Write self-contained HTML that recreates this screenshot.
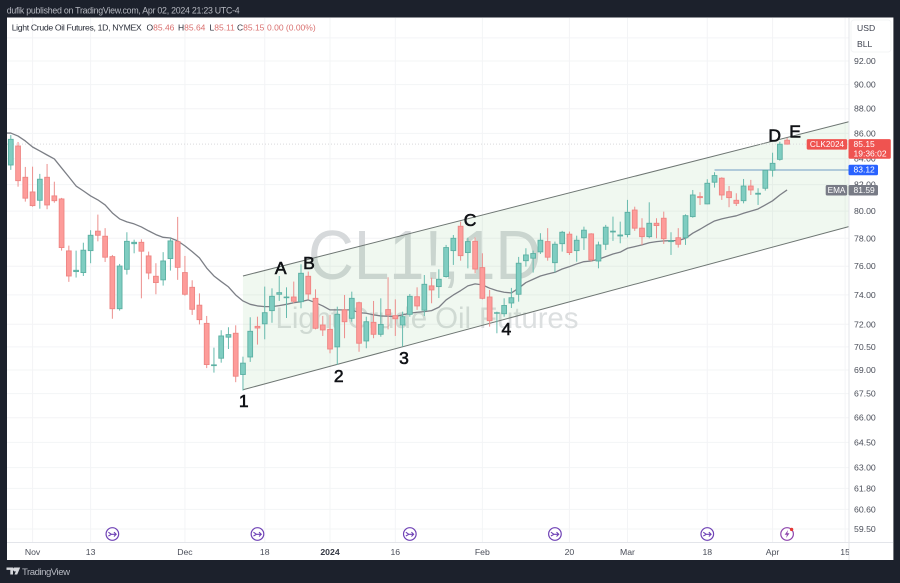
<!DOCTYPE html>
<html lang="en">
<head>
<meta charset="utf-8">
<title>Light Crude Oil Futures chart</title>
<style>
html,body{margin:0;padding:0;width:900px;height:583px;overflow:hidden;background:#1c212c;}
svg{display:block;font-family:"Liberation Sans",sans-serif;filter:blur(0.3px);}
</style>
</head>
<body>
<svg id="chart" xmlns="http://www.w3.org/2000/svg" width="900" height="583" viewBox="0 0 900 583">
  <defs>
    <clipPath id="pane-clip"><rect x="7" y="18" width="842" height="524"/></clipPath>
    <clipPath id="time-clip"><rect x="7" y="542" width="842" height="18"/></clipPath>
  </defs>
  <rect width="900" height="583" fill="#1c212c"/>
  <text x="6.7" y="13.4" font-size="8.8" fill="#b7bac2" textLength="233" lengthAdjust="spacing">dufik published on TradingView.com, Apr 02, 2024 21:23 UTC-4</text>
  <rect x="7" y="17.5" width="886.4" height="542.5" fill="#ffffff"/>
  <g id="grid"></g>
  <g fill="#d6d9db">
    <text transform="matrix(0.907 0 0 1 308 279)" font-size="70" word-spacing="-19">CL1!, 1D</text>
    <text x="427" y="328" font-size="29.5" text-anchor="middle" fill="#dcdfe0" textLength="303" lengthAdjust="spacing">Light Crude Oil Futures</text>
  </g>
  <g id="plot" clip-path="url(#pane-clip)"></g>
  <g id="annotations"></g>
  <g id="events"></g>
  <text x="11.7" y="30.6" font-size="8.7" fill="#2a2e39" textLength="130" lengthAdjust="spacing">Light Crude Oil Futures, 1D, NYMEX</text>
  <g font-size="8.5" fill="#2a2e39">
    <text x="146.5" y="30.6">O<tspan fill="#d9706f">85.46</tspan></text>
    <text x="178" y="30.6">H<tspan fill="#d9706f">85.64</tspan></text>
    <text x="209.5" y="30.6">L<tspan fill="#d9706f">85.11</tspan></text>
    <text x="237" y="30.6">C<tspan fill="#d9706f">85.15</tspan></text>
    <text x="267" y="30.6" fill="#d9706f">0.00 (0.00%)</text>
  </g>
  <line x1="849" y1="18" x2="849" y2="560" stroke="#e3e5ea" stroke-width="1"/>
  <line x1="7" y1="542.5" x2="893" y2="542.5" stroke="#e3e5ea" stroke-width="1"/>
  <g id="price-axis"></g>
  <g id="time-axis" clip-path="url(#time-clip)"></g>
  <g>
    <rect x="851" y="20" width="40" height="32" rx="3" fill="#ffffff" stroke="#f3f4f6"/>
    <text x="857" y="31" font-size="8.6" fill="#3f4350">USD</text>
    <text x="857" y="47" font-size="8.6" fill="#3f4350">BLL</text>
  </g>
  <g id="price-tags"></g>
  <g>
    <path d="M6.5 567.5h6.5v7h-2.7v-4.6H6.5zM14 567.5h6.2l-3 7h-2.7l1.4-3.3a1.6 1.6 0 1 1-1.9-3.7z" fill="#d6d8dd"/>
    <text x="22" y="575" font-size="9.6" fill="#b7bac2" textLength="48" lengthAdjust="spacing">TradingView</text>
  </g>
</svg>
<script>
// ---- chart data ----
const categories = [
"2023-10-27","2023-10-30","2023-10-31","2023-11-01","2023-11-02","2023-11-03","2023-11-06","2023-11-07","2023-11-08","2023-11-09",
"2023-11-10","2023-11-13","2023-11-14","2023-11-15","2023-11-16","2023-11-17","2023-11-20","2023-11-21","2023-11-22","2023-11-24",
"2023-11-27","2023-11-28","2023-11-29","2023-11-30","2023-12-01","2023-12-04","2023-12-05","2023-12-06","2023-12-07","2023-12-08",
"2023-12-11","2023-12-12","2023-12-13","2023-12-14","2023-12-15","2023-12-18","2023-12-19","2023-12-20","2023-12-21","2023-12-22",
"2023-12-26","2023-12-27","2023-12-28","2023-12-29","2024-01-02","2024-01-03","2024-01-04","2024-01-05","2024-01-08","2024-01-09",
"2024-01-10","2024-01-11","2024-01-12","2024-01-16","2024-01-17","2024-01-18","2024-01-19","2024-01-22","2024-01-23","2024-01-24",
"2024-01-25","2024-01-26","2024-01-29","2024-01-30","2024-01-31","2024-02-01","2024-02-02","2024-02-05","2024-02-06","2024-02-07",
"2024-02-08","2024-02-09","2024-02-12","2024-02-13","2024-02-14","2024-02-15","2024-02-16","2024-02-20","2024-02-21","2024-02-22",
"2024-02-23","2024-02-26","2024-02-27","2024-02-28","2024-02-29","2024-03-01","2024-03-04","2024-03-05","2024-03-06","2024-03-07",
"2024-03-08","2024-03-11","2024-03-12","2024-03-13","2024-03-14","2024-03-15","2024-03-18","2024-03-19","2024-03-20","2024-03-21",
"2024-03-22","2024-03-25","2024-03-26","2024-03-27","2024-03-28","2024-04-01","2024-04-02","2024-04-03","2024-04-04","2024-04-05",
"2024-04-08","2024-04-09","2024-04-10","2024-04-11","2024-04-12","2024-04-15"];

const opens = [
83.51,85.00,82.56,81.44,80.81,82.56,81.14,80.91,77.09,75.62,
75.55,77.11,78.52,78.15,76.68,73.05,75.78,77.61,77.71,76.73,
75.29,75.04,76.54,77.76,75.55,74.52,73.29,72.06,69.28,69.76,
71.14,71.40,68.71,69.84,71.86,72.03,72.92,74.04,73.80,73.85,
73.53,75.29,73.76,71.95,71.66,70.50,72.97,72.40,73.46,70.89,
72.13,71.33,72.99,72.58,71.95,72.67,73.87,72.95,74.62,74.57,
75.27,77.11,78.88,76.97,77.78,75.90,73.85,72.74,72.71,73.44,
74.04,76.39,76.57,77.02,77.76,76.25,77.61,78.30,77.11,78.04,
78.32,76.37,77.57,78.46,78.17,78.27,80.08,78.74,78.12,79.10,
79.47,77.76,78.04,78.04,79.59,81.09,80.54,82.18,82.49,81.46,
80.81,80.78,81.89,81.27,81.72,83.10,83.95,85.46];

const highs = [
85.87,85.32,83.36,83.38,82.82,83.59,82.22,80.99,77.47,77.11,
77.68,78.59,79.74,78.74,76.80,76.16,78.44,77.90,77.93,77.04,
76.21,77.00,78.00,79.57,76.73,75.01,74.10,72.56,70.45,71.60,
71.80,71.93,69.86,72.47,72.51,74.57,74.45,75.31,74.52,74.92,
76.14,75.62,74.38,72.56,72.63,73.19,73.99,74.22,73.53,72.51,
73.58,73.76,75.22,73.69,72.85,74.06,74.52,75.38,75.19,75.78,
77.52,78.24,79.22,78.04,78.07,76.92,74.34,72.85,73.76,74.48,
76.66,77.28,77.11,78.37,78.74,77.76,78.54,78.49,78.19,78.85,
78.37,77.76,78.98,79.59,79.22,80.84,80.33,79.47,80.66,79.47,
79.96,78.44,78.74,79.76,81.59,81.42,82.41,82.95,82.56,81.89,
81.34,82.43,82.36,81.72,83.13,84.47,85.34,85.64];

const lows = [
83.13,81.84,80.71,80.33,80.18,80.14,80.63,77.11,74.90,75.20,
75.31,76.21,77.78,76.30,72.37,72.92,75.41,76.92,73.76,75.08,
74.04,74.64,75.69,75.04,73.94,72.63,71.99,69.12,68.83,69.47,
70.36,68.22,67.69,69.52,70.65,71.00,72.10,73.58,72.42,73.42,
73.08,73.69,71.66,71.22,70.08,69.33,71.07,72.17,70.18,70.41,
71.07,71.17,71.66,71.22,70.52,72.51,72.97,72.56,73.42,73.78,
75.20,76.09,76.39,75.85,75.50,73.69,71.84,71.40,72.51,73.10,
73.53,75.97,75.55,76.87,76.39,75.57,77.04,76.80,76.32,77.16,
76.32,75.85,77.16,77.81,77.64,78.07,78.54,77.52,78.00,78.00,
77.59,76.80,77.33,77.52,79.51,80.46,80.51,81.77,80.84,80.29,
80.38,80.58,81.21,80.46,81.54,82.61,83.85,85.11];

const closes = [
85.53,82.30,80.97,80.41,82.41,80.46,80.78,77.33,75.31,75.71,
77.14,78.22,78.22,76.64,73.05,76.01,77.78,77.71,77.07,75.52,
74.85,76.37,77.81,75.92,74.04,73.01,72.31,69.35,69.33,71.22,
71.31,68.60,69.44,71.53,71.75,72.78,73.90,74.15,73.85,73.56,
75.50,74.06,71.73,71.62,70.36,72.67,72.17,73.76,70.74,72.17,
71.33,71.99,72.63,72.37,72.51,73.90,73.24,74.73,74.34,75.08,
77.33,78.00,76.75,77.76,75.80,73.76,72.24,72.78,73.27,73.80,
76.21,76.80,76.90,77.86,76.64,77.57,78.44,76.97,77.86,78.59,
76.45,77.52,78.81,78.52,78.24,79.91,78.74,78.12,79.10,78.93,
77.97,77.83,77.57,79.66,81.21,81.01,82.10,82.69,81.21,81.01,
80.58,81.89,81.59,81.34,83.10,83.64,85.14,85.15];

const emaPrior = 86.03;
const emaValues = [
86.03,85.79,85.40,84.92,84.61,84.29,83.98,83.28,82.59,81.89,
81.52,81.14,80.84,80.46,79.86,79.42,79.20,79.05,78.83,78.54,
78.27,78.07,78.02,77.81,77.45,77.04,76.59,75.87,75.31,74.92,
74.55,73.99,73.58,73.35,73.24,73.19,73.19,73.26,73.35,73.46,
73.53,73.65,73.46,73.24,72.97,72.97,72.97,72.97,72.78,72.74,
72.63,72.56,72.54,72.52,72.63,72.74,72.81,72.85,72.92,73.15,
73.65,73.99,74.29,74.62,74.76,74.69,74.46,74.29,74.18,74.13,
74.46,74.85,75.08,75.31,75.45,75.57,75.80,75.97,76.16,76.32,
76.37,76.49,76.68,76.87,77.00,77.28,77.40,77.52,77.68,77.76,
77.81,77.83,77.83,78.00,78.37,78.66,78.98,79.27,79.42,79.54,
79.65,79.84,80.00,80.16,80.46,80.77,81.21,81.59];

const priceTicks = [92,90,88,86,84,82,80,78,76,74,72,70.5,69,67.5,66,64.5,63,61.8,60.6,59.5];
const unlabelledGridPrices = [94];
const timeTickLabels = ["Nov","13","Dec","18","2024","16","Feb","20","Mar","18","Apr","15"];
const timeTickDates = ["2023-11-01","2023-11-13","2023-12-01","2023-12-18","2024-01-02","2024-01-16","2024-02-01","2024-02-20","2024-03-01","2024-03-18","2024-04-01","2024-04-15"];
const eventDates = ["2023-11-16","2023-12-15","2024-01-18","2024-02-15","2024-03-18","2024-04-03"];
const channelStartDate = "2023-12-13";
const channelUpper = [75.31,86.94];
const channelLower = [67.74,78.85];
const horizontalRayDate = "2024-03-19";
const horizontalRayPrice = 83.12;
const annotationLabels = ["A","B","C","D","E","1","2","3","4"];
const annotationBars = [37.2,41.1,63.3,105.3,108.1,32.1,45.2,54.2,68.3];
const annotationPrices = [75.87,76.23,79.35,85.87,86.19,67.04,68.62,69.78,71.68];

// ---- scales ----
function xScale(i){ return 10.8 + 7.255 * i; }
function xDate(d){ return xScale(categories.indexOf(d)); }
function yScale(p){ return 61 + 1074 * Math.log(92 / p); }

const NS = "http://www.w3.org/2000/svg";
function mk(tag, attrs, parent, text){
  const e = document.createElementNS(NS, tag);
  for (const k in attrs) e.setAttribute(k, attrs[k]);
  if (text !== undefined) e.textContent = text;
  parent.appendChild(e);
  return e;
}
const grid = document.getElementById("grid");
const plot = document.getElementById("plot");
const priceAxis = document.getElementById("price-axis");
const timeAxis = document.getElementById("time-axis");
const tags = document.getElementById("price-tags");
const annotations = document.getElementById("annotations");
const events = document.getElementById("events");

// grid and axis ticks
priceTicks.concat(unlabelledGridPrices).forEach(function(p){
  const y = yScale(p);
  const l = mk("line", {x1:7, x2:849, y1:y, y2:y, stroke:"#f3f4f6", "stroke-width":1}, grid);
  
  
});
priceTicks.forEach(function(p){
  const t = mk("text", {x:854, y:yScale(p)+3, "font-size":8.7, fill:"#4a4e59"}, priceAxis, p.toFixed(2));
  
  
});
timeTickDates.forEach(function(d, k){
  const x = xDate(d);
  if (x < 849) {
    const l = mk("line", {x1:x, x2:x, y1:18, y2:542, stroke:"#f3f4f6", "stroke-width":1}, grid);
    
    
  }
  const bold = timeTickLabels[k] === "2024";
  const t = mk("text", {x:x, y:555, "font-size":8.7, "text-anchor":"middle", fill: bold ? "#363a45" : "#4a4e59", "font-weight": bold ? "bold" : "normal"}, timeAxis, timeTickLabels[k]);
  
  
});

// parallel channel
const cx0 = xDate(channelStartDate), cx1 = xScale(115.5);
const channelFill = mk("polygon", {
  points: [cx0+","+yScale(channelUpper[0]), cx1+","+yScale(channelUpper[1]), cx1+","+yScale(channelLower[1]), cx0+","+yScale(channelLower[0])].join(" "),
  fill:"#4caf50", "fill-opacity":0.085}, plot);


const upperLine = mk("line", {x1:cx0, y1:yScale(channelUpper[0]), x2:cx1, y2:yScale(channelUpper[1]), stroke:"#6e7673", "stroke-width":1}, plot);


const lowerLine = mk("line", {x1:cx0, y1:yScale(channelLower[0]), x2:cx1, y2:yScale(channelLower[1]), stroke:"#6e7673", "stroke-width":1}, plot);



// last price dotted line and horizontal ray
const lastClose = closes[closes.length - 1];
const lastLine = mk("line", {x1:7, x2:849, y1:yScale(lastClose), y2:yScale(lastClose), stroke:"#d9d9dc", "stroke-width":1, "stroke-dasharray":"1 2"}, plot);


const ray = mk("line", {x1:xDate(horizontalRayDate), x2:849, y1:yScale(horizontalRayPrice), y2:yScale(horizontalRayPrice), stroke:"#6f9dc4", "stroke-width":1}, plot);



// EMA
const emaPts = [xScale(-1)+","+yScale(emaPrior)].concat(emaValues.map(function(v,i){ return xScale(i)+","+yScale(v); }));
const ema = mk("polyline", {points: emaPts.join(" "), fill:"none", stroke:"#7c7f86", "stroke-width":1.3, "stroke-linejoin":"round"}, plot);



// candles
opens.forEach(function(o, i){
  const c = closes[i], up = c >= o;
  const g = mk("g", {}, plot);
  
  
  const x = xScale(i);
  const wick = mk("line", {x1:x, x2:x, y1:yScale(highs[i]), y2:yScale(lows[i]), stroke: up ? "#68bbae" : "#ec8f8d", "stroke-width":1}, g);
  
  
  const top = yScale(Math.max(o,c)), bot = yScale(Math.min(o,c));
  const body = mk("rect", {x:x-2.4, y:top, width:4.8, height:Math.max(bot-top,0.6), fill: up ? "#7fcdc1" : "#fd9c9a", stroke: up ? "#5cb0a3" : "#ee8583", "stroke-width":0.9}, g);
  
  
});

// wave labels
annotationLabels.forEach(function(s, k){
  const t = mk("text", {x:xScale(annotationBars[k]), y:yScale(annotationPrices[k])+6.2, "font-size":17.5, "text-anchor":"middle", fill:"#101216", stroke:"#101216", "stroke-width":0.6}, annotations, s);
  
  
});

// event markers
eventDates.forEach(function(d, k){
  const last = k === eventDates.length - 1;
  const g = mk("g", {transform:"translate("+xDate(d)+",534)"}, events);
  
  
  const col = last ? "#8e45ad" : "#6f42b5";
  mk("circle", {r:6.3, fill:"#ffffff", stroke:col, "stroke-width":1.2}, g);
  if (last) {
    mk("path", {d:"M1 -4 L-2.4 0.8 H-0.2 L-1 4 L2.4 -0.8 H0.2 Z", fill:col}, g);
    mk("circle", {cx:4.5, cy:-4.6, r:1.7, fill:"#e53935"}, g);
  } else {
    mk("path", {d:"M-4 -1.8 L-1 0.3 L-4 2 M-1.5 0.3 H3.6 M1.6 -1.9 L3.8 0.3 L1.6 2.5", fill:"none", stroke:col, "stroke-width":1.1}, g);
  }
});

// right-hand price tags
function tag(name, x, y, w, h, fill, lines, size, anchorX, anchor){
  const r = mk("rect", {x:x, y:y, width:w, height:h, rx:1.5, fill:fill}, tags);
  
  
  lines.forEach(function(s, k){
    const t = mk("text", {x:anchorX, y:y + 7.8 + k*9.6, "font-size":size, fill:"#ffffff", "text-anchor":anchor}, tags, s);
    
    
  });
}
const yLast = yScale(lastClose), yRay = yScale(horizontalRayPrice), yEma = yScale(emaValues[emaValues.length-1]);
tag('ema-name-tag', 825.7, yEma-5, 21.5, 10.5, "#787b86", ["EMA"], 8.2, 836.5, "middle");
tag('ema-value-tag', 848.5, yEma-5, 29.5, 10.5, "#787b86", [emaValues[emaValues.length-1].toFixed(2)], 8.5, 853.5, "start");
tag('ray-price-tag', 848.5, yRay-5.3, 29.5, 10.5, "#2962ff", [horizontalRayPrice.toFixed(2)], 8.5, 853.5, "start");
tag('symbol-tag', 806.7, yLast-5, 40.5, 10.5, "#ef5350", ["CLK2024"], 8.2, 827, "middle");
tag('last-price-tag', 848.5, yLast-5, 42.3, 19.7, "#ef5350", [lastClose.toFixed(2), "19:36:02"], 8.5, 853.5, "start");
</script>
</body>
</html>
